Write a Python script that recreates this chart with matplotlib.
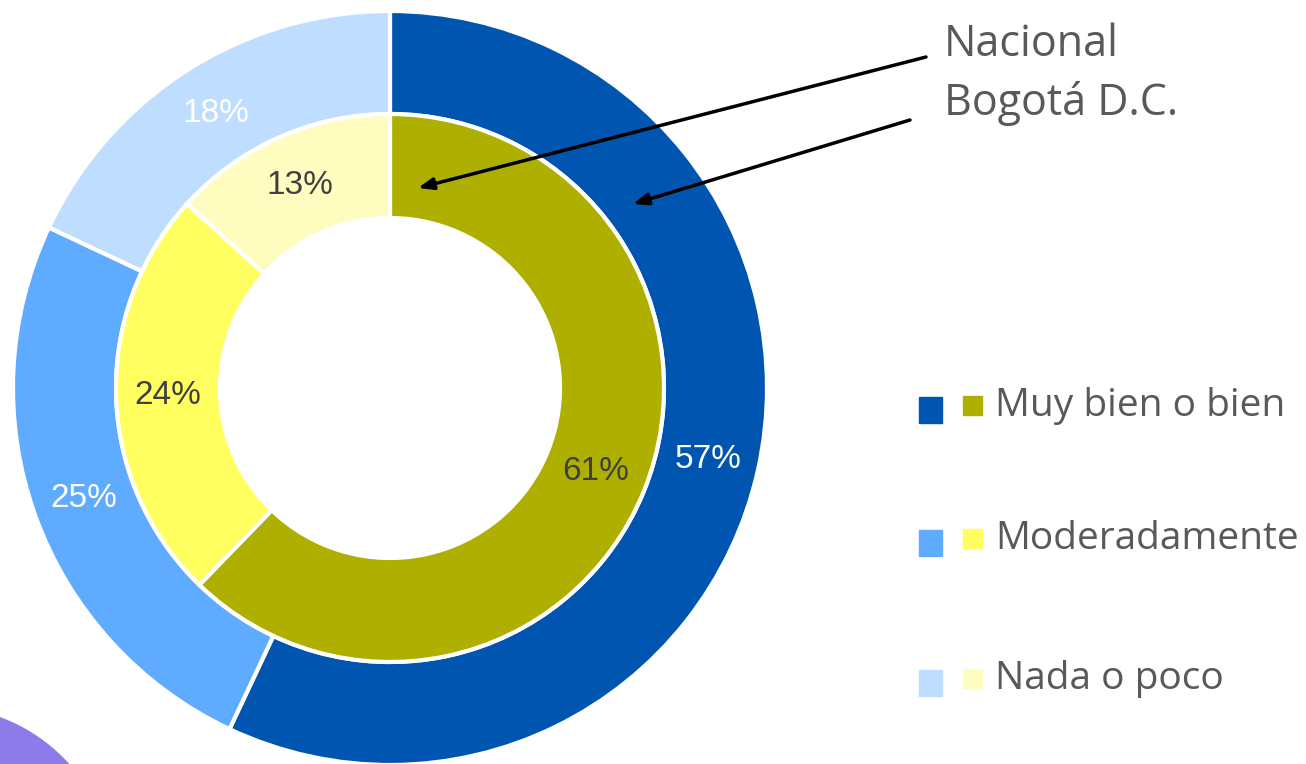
import numpy as np
import matplotlib.pyplot as plt
from matplotlib.patches import Circle, Rectangle

categorias = ['Muy bien o bien', 'Moderadamente', 'Nada o poco']
bogota = [57, 25, 18]      # anillo exterior
nacional = [61, 24, 13]    # anillo interior
colores_bog = ['#0055B0', '#5FABFF', '#BFDDFF']
colores_nac = ['#AFAF00', '#FFFF60', '#FFFCC0']

W, H = 1306, 764
fig = plt.figure(figsize=(W / 100, H / 100), dpi=100)
ax = fig.add_axes([0, 0, 1, 1])

# mancha morada decorativa (esquina inferior izquierda)
ax.add_patch(Circle((-60, -116), 173, color='#8C7BE8', zorder=0))

cx, cy = 390, H - 388
r_ext, r_mid, r_int = 377, 274, 170
ancho = r_ext - r_mid

w1, t1 = ax.pie(bogota, radius=r_ext, center=(cx, cy), startangle=90, counterclock=False,
                colors=colores_bog, labels=[f'{v}%' for v in bogota],
                labeldistance=(r_ext - ancho / 2) / r_ext,
                wedgeprops=dict(width=ancho, edgecolor='white', linewidth=3),
                textprops=dict(color='white', fontsize=24, family='Liberation Sans'),
                frame=True)
w2, t2 = ax.pie(nacional, radius=r_mid, center=(cx, cy), startangle=90, counterclock=False,
                colors=colores_nac, labels=[f'{v}%' for v in nacional],
                labeldistance=(r_mid - (r_mid - r_int) / 2) / r_mid,
                wedgeprops=dict(width=r_mid - r_int, edgecolor='white', linewidth=3),
                textprops=dict(color='#404040', fontsize=24, family='Liberation Sans'),
                frame=True)
for t in t1 + t2:
    t.set_ha('center')
    t.set_va('center')
ax.set_xlim(0, W)
ax.set_ylim(0, H)
ax.axis('off')

# anotaciones
txt = dict(color='#595959', family='Open Sans', va='center', ha='left')
ax.text(944, H - 45, 'Nacional', fontsize=31, **txt)
ax.text(944, H - 103, 'Bogotá D.C.', fontsize=31, **txt)
flecha = dict(arrowstyle='-|>,head_length=0.9,head_width=0.35', color='black', lw=2.5,
              shrinkA=0, shrinkB=0)
ax.annotate('', xy=(418, H - 188), xytext=(926, H - 57), arrowprops=flecha)
ax.annotate('', xy=(633, H - 204), xytext=(910, H - 120), arrowprops=flecha)

# leyenda manual
filas_y = [410, 543, 683]
for i, cat in enumerate(categorias):
    y = H - filas_y[i]
    ax.add_patch(Rectangle((919, y - 13), 23, 26, color=colores_bog[i]))
    ax.add_patch(Rectangle((963, y - 5), 19, 19, color=colores_nac[i]))
    ax.text(995, y + 4, cat, fontsize=28, **txt)

fig.savefig('out.png', dpi=100)
